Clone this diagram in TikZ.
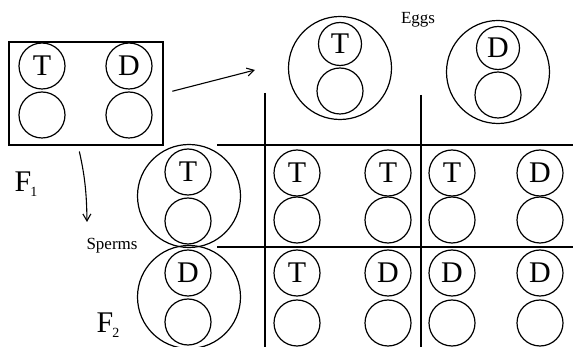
\documentclass[tikz,border=0pt]{standalone}
\usepackage{fontspec}
\setmainfont{Liberation Serif}
\usetikzlibrary{arrows.meta}
\begin{document}
\begin{tikzpicture}[x=1pt,y=-1pt,line width=1.2pt,
  every node/.style={font=\fontsize{30}{30}\selectfont},
  chrom/.style={draw,circle,minimum size=46pt,inner sep=0pt},
  gamete/.style={draw,circle,minimum size=103pt,inner sep=0pt},
  lbl/.style={font=\fontsize{17}{17}\selectfont},
  gen/.style={font=\fontsize{30}{30}\selectfont}]
  \useasboundingbox (0,0) rectangle (573,347);
  % F1 parent
  \node[draw,minimum width=154pt,minimum height=103pt,inner sep=0pt] (f1) at (86,93.5) {};
  \foreach \x/\n/\txt in {42/t/T,129/d/D} {
    \node[chrom] (f1\n a) at (\x,66) {\txt};
    \node[chrom] (f1\n b) at (\x,115) {};
  }
  \node[gen] (f1lbl) at (26,184) {F\kern-1pt\raisebox{-5pt}{\fontsize{14}{14}\selectfont 1}};
  \node[gen] (f2lbl) at (108,325) {F\kern-1pt\raisebox{-5pt}{\fontsize{14}{14}\selectfont 2}};
  % eggs
  \node[lbl] (eggs) at (418,20) {Eggs};
  \foreach \x/\y/\n/\txt in {340/68/t/T,498/72/d/D} {
    \node[gamete] (egg\n) at (\x,\y) {};
    \node[chrom,minimum size=43pt] (egg\n a) at (\x,\y-24) {\txt};
    \node[chrom] (egg\n b) at (\x,\y+23) {};
  }
  % sperms
  \node[lbl] (sperms) at (112,246) {Sperms};
  \foreach \y/\n/\txt in {196/t/T,297/d/D} {
    \node[gamete] (sp\n) at (189,\y) {};
    \node[chrom] (sp\n a) at (188,\y-24) {\txt};
    \node[chrom] (sp\n b) at (188,\y+25) {};
  }
  % arrows
  \coordinate (eggend) at (255,70);
  \coordinate (spend) at (87,222);
  \draw[-{Straight Barb[length=7pt,width=8pt]},line width=1.1pt,shorten <=9pt] (f1.east) -- (eggend);
  \draw[-{Straight Barb[length=7pt,width=8pt]},line width=1.1pt,shorten <=6pt] ([xshift=-8pt]f1.south) to[bend left=6] (spend);
  % grid
  \coordinate (h1a) at (217,145); \coordinate (h1b) at (573,145);
  \coordinate (h2a) at (217,247); \coordinate (h2b) at (573,247);
  \coordinate (v1a) at (265,93);  \coordinate (v1b) at (265,347);
  \coordinate (v2a) at (421,95);  \coordinate (v2b) at (421,347);
  \draw (h1a) -- (h1b) (h2a) -- (h2b) (v1a) -- (v1b) (v2a) -- (v2b);
  % offspring
  \foreach \x/\c/\a/\b in {297/1/T/T,388/2/T/D,452/3/T/D,540/4/D/D} {
    \node[chrom] (o1\c a) at (\x,173) {\a};
    \node[chrom] (o1\c b) at (\x,220) {};
    \node[chrom] (o2\c a) at (\x,273) {\b};
    \node[chrom] (o2\c b) at (\x,323) {};
  }
\end{tikzpicture}
\end{document}
